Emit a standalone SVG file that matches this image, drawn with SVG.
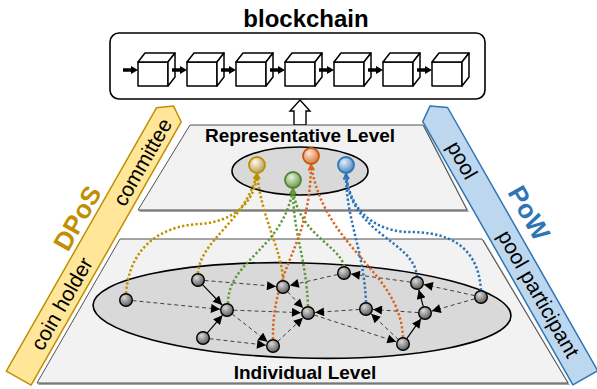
<svg xmlns="http://www.w3.org/2000/svg" width="597" height="389" viewBox="0 0 597 389">
<defs>
<style>
.t{font-family:"Liberation Sans",Arial,sans-serif}
.plane{fill:#f2f2f2;stroke:#404040;stroke-width:0.9}
.shadow{fill:#a6a6a6}
.ell{fill:#d9d9d9;stroke:#000;stroke-width:1.6}
.node{fill:url(#gGray);stroke:#000;stroke-width:1.4}
.dash{fill:none;stroke:#404040;stroke-width:1;stroke-dasharray:4 3;marker-end:url(#ah)}
.solid{fill:none;stroke:#000;stroke-width:1.2;marker-end:url(#ah)}
.dot{fill:none;stroke-width:2.5;stroke-dasharray:2.3 2.2}
.cube{fill:#fff;stroke:#000;stroke-width:1.5;stroke-linejoin:round}
.chain{stroke:#000;stroke-width:3.5;marker-end:url(#cah)}
</style>
<radialGradient id="gGray" cx="0.38" cy="0.32" r="0.7"><stop offset="0" stop-color="#d9d9d9"/><stop offset="1" stop-color="#595959"/></radialGradient>
<radialGradient id="gGold" cx="0.38" cy="0.32" r="0.7"><stop offset="0" stop-color="#fffaea"/><stop offset="1" stop-color="#b39b5a"/></radialGradient>
<radialGradient id="gGreen" cx="0.38" cy="0.32" r="0.7"><stop offset="0" stop-color="#e6f2dc"/><stop offset="1" stop-color="#6a9a4a"/></radialGradient>
<radialGradient id="gOrange" cx="0.38" cy="0.32" r="0.7"><stop offset="0" stop-color="#fde6d6"/><stop offset="1" stop-color="#d7773a"/></radialGradient>
<radialGradient id="gBlue" cx="0.38" cy="0.32" r="0.7"><stop offset="0" stop-color="#e3eef9"/><stop offset="1" stop-color="#4a86c2"/></radialGradient>
<marker id="ah" viewBox="0 0 10 10" refX="10" refY="5" markerWidth="10" markerHeight="9" markerUnits="userSpaceOnUse" orient="auto"><path d="M0,0 L10,5 L0,10 z" fill="#000"/></marker>
<marker id="cah" viewBox="0 0 7 8" refX="2" refY="4" markerWidth="7" markerHeight="9" markerUnits="userSpaceOnUse" orient="auto"><path d="M0,0 L7,4 L0,8 z" fill="#000"/></marker>
<marker id="mGold" viewBox="0 0 8 8" refX="7" refY="4" markerWidth="7" markerHeight="7" markerUnits="userSpaceOnUse" orient="auto"><path d="M1,1 L7,4 L1,7" fill="none" stroke="#bf9000" stroke-width="1.6"/></marker>
<marker id="mGreen" viewBox="0 0 8 8" refX="7" refY="4" markerWidth="7" markerHeight="7" markerUnits="userSpaceOnUse" orient="auto"><path d="M1,1 L7,4 L1,7" fill="none" stroke="#5e9a3a" stroke-width="1.6"/></marker>
<marker id="mOrange" viewBox="0 0 8 8" refX="7" refY="4" markerWidth="7" markerHeight="7" markerUnits="userSpaceOnUse" orient="auto"><path d="M1,1 L7,4 L1,7" fill="none" stroke="#d8651c" stroke-width="1.6"/></marker>
<marker id="mBlue" viewBox="0 0 8 8" refX="7" refY="4" markerWidth="7" markerHeight="7" markerUnits="userSpaceOnUse" orient="auto"><path d="M1,1 L7,4 L1,7" fill="none" stroke="#2e75b6" stroke-width="1.6"/></marker>
<g id="cube">
<rect class="cube" x="0" y="9" width="30" height="24"/>
<polygon class="cube" points="0,9 7,0 37,0 30,9"/>
<polygon class="cube" points="30,9 37,0 37,24 30,33"/>
</g>
</defs>

<rect width="597" height="389" fill="#fff"/>

<!-- blockchain -->
<g id="blockchain">
<text class="t" x="306" y="27" font-size="24" font-weight="bold" text-anchor="middle">blockchain</text>
<rect x="110" y="33" width="375" height="66" rx="9" fill="#fff" stroke="#000" stroke-width="1.6"/>
<use href="#cube" x="138" y="53"/>
<use href="#cube" x="187" y="53"/>
<use href="#cube" x="236" y="53"/>
<use href="#cube" x="285" y="53"/>
<use href="#cube" x="334" y="53"/>
<use href="#cube" x="383" y="53"/>
<use href="#cube" x="432" y="53"/>
<line class="chain" x1="123" y1="70" x2="133" y2="70"/>
<line class="chain" x1="172" y1="70" x2="182" y2="70"/>
<line class="chain" x1="221" y1="70" x2="231" y2="70"/>
<line class="chain" x1="270" y1="70" x2="280" y2="70"/>
<line class="chain" x1="319" y1="70" x2="329" y2="70"/>
<line class="chain" x1="368" y1="70" x2="378" y2="70"/>
<line class="chain" x1="417" y1="70" x2="427" y2="70"/>
</g>

<!-- up arrow -->
<g id="up-arrow">
<polygon points="300,100 310,111 306,111 306,125 294,125 294,111 290,111" fill="#fff" stroke="#000" stroke-width="1.4" stroke-linejoin="miter"/>
</g>

<!-- representative plane -->
<g id="representative-level">
<polygon class="shadow" points="191,126 425,126 469,212 139,212"/>
<polygon class="plane" points="190,125 423,125 467,210 138,210"/>
<text class="t" x="300" y="142" font-size="19" font-weight="bold" text-anchor="middle">Representative Level</text>
<ellipse class="ell" cx="300" cy="171" rx="68" ry="24"/>
</g>

<!-- individual plane -->
<g id="individual-level">
<polygon class="shadow" points="121,240 484,240 570,385 38,385"/>
<polygon class="plane" points="120,239 482,239 568,383 37,383"/>
<ellipse class="ell" cx="302" cy="310.5" rx="209" ry="47.5" transform="rotate(1.5 302 310.5)"/>
<text class="t" x="305" y="379" font-size="19" font-weight="bold" text-anchor="middle">Individual Level</text>
</g>

<!-- DPoS band -->
<g id="dpos-band" transform="translate(18.5,378) rotate(-60.3)">
<polygon points="0,-14 303,-14 313,0 303,14.5 0,14.5" fill="#ffe699" stroke="#bf9000" stroke-width="1.5" stroke-linejoin="round"/>
<text class="t" x="86" y="8" font-size="21" text-anchor="middle">coin holder</text>
<text class="t" x="249" y="8" font-size="21" text-anchor="middle">committee</text>
<text class="t" x="168" y="-19" font-size="26" font-weight="bold" fill="#bf9000" text-anchor="middle">DPoS</text>
</g>

<!-- PoW band -->
<g id="pow-band" transform="translate(430,106) rotate(60.3)">
<polygon points="0,0 10,-14.5 313,-14.5 313,14 10,14" fill="#bdd7ee" stroke="#2e75b6" stroke-width="1.5" stroke-linejoin="round"/>
<text class="t" x="63" y="6" font-size="21" text-anchor="middle">pool</text>
<text class="t" x="217" y="6" font-size="21" text-anchor="middle">pool participant</text>
<text class="t" x="142" y="-24" font-size="26" font-weight="bold" fill="#2e75b6" text-anchor="middle">PoW</text>
</g>

<!-- connectors -->
<g id="connectors">
<g id="delegation" class="dot">
<path stroke="#bf9000" marker-end="url(#mGold)" d="M126,293.5 C130,240 170,225 200,224 C230,222 255,205 257,174"/>
<path stroke="#bf9000" marker-end="url(#mGold)" d="M198,273.5 C200,240 245,222 257,174"/>
<path stroke="#bf9000" marker-end="url(#mGold)" d="M283,280.5 C282,250 262,220 257,174"/>
<path stroke="#5e9a3a" marker-end="url(#mGreen)" d="M228,303.5 C228,260 283,250 293,189"/>
<path stroke="#5e9a3a" marker-end="url(#mGreen)" d="M308,306.5 C306,255 293,235 293,189"/>
<path stroke="#5e9a3a" marker-end="url(#mGreen)" d="M344,266.5 C340,245 298,235 293,189"/>
<path stroke="#d8651c" marker-end="url(#mOrange)" d="M273,339.5 C272,265 310,250 311,165"/>
<path stroke="#d8651c" marker-end="url(#mOrange)" d="M403,337.5 C400,270 325,250 311,165"/>
<path stroke="#2e75b6" marker-end="url(#mBlue)" d="M366,302.5 C364,250 346,220 346,174"/>
<path stroke="#2e75b6" marker-end="url(#mBlue)" d="M417,276.5 C414,240 350,235 346,174"/>
<path stroke="#2e75b6" marker-end="url(#mBlue)" d="M481,290.5 C478,240 440,232 410,232 C380,232 350,215 346,174"/>
</g>
<g id="peer-edges">
<line class="dash" x1="132.5" y1="300.6" x2="220.0" y2="309.3"/>
<line class="solid" x1="202.5" y1="284.7" x2="222.1" y2="305.0"/>
<line class="solid" x1="207.2" y1="333.1" x2="222.4" y2="315.3"/>
<line class="dash" x1="204.5" y1="280.5" x2="276.0" y2="286.4"/>
<line class="dash" x1="233.5" y1="310.2" x2="301.0" y2="312.7"/>
<line class="dash" x1="232.1" y1="314.0" x2="267.5" y2="341.7"/>
<line class="dash" x1="209.5" y1="338.7" x2="266.0" y2="345.2"/>
<line class="dash" x1="287.5" y1="291.7" x2="303.1" y2="308.0"/>
<line class="dash" x1="337.7" y1="274.5" x2="289.8" y2="285.4"/>
<line class="dash" x1="277.7" y1="341.5" x2="302.9" y2="317.8"/>
<line class="dash" x1="359.5" y1="309.4" x2="315.0" y2="312.5"/>
<line class="dash" x1="410.6" y1="282.1" x2="350.9" y2="274.0"/>
<line class="dash" x1="418.5" y1="312.6" x2="373.0" y2="309.5"/>
<line class="dash" x1="398.3" y1="339.5" x2="371.1" y2="313.8"/>
<line class="dash" x1="314.2" y1="315.0" x2="396.3" y2="341.8"/>
<line class="solid" x1="406.8" y1="338.7" x2="421.0" y2="318.7"/>
<line class="solid" x1="423.3" y1="306.7" x2="418.8" y2="289.8"/>
<line class="dash" x1="474.6" y1="295.6" x2="423.8" y2="284.5"/>
<line class="dash" x1="474.7" y1="298.8" x2="431.7" y2="311.1"/>
</g>
</g>

<!-- representative nodes -->
<g id="rep-gold"><circle cx="257" cy="165" r="8" fill="url(#gGold)" stroke="#bf9000" stroke-width="1.8"/></g>
<g id="rep-green"><circle cx="293" cy="180" r="8" fill="url(#gGreen)" stroke="#548235" stroke-width="1.8"/></g>
<g id="rep-orange"><circle cx="311" cy="156" r="8" fill="url(#gOrange)" stroke="#c55a11" stroke-width="1.8"/></g>
<g id="rep-blue"><circle cx="346" cy="165" r="8" fill="url(#gBlue)" stroke="#2e75b6" stroke-width="1.8"/></g>

<!-- individual nodes -->
<g id="n-A"><circle class="node" cx="126" cy="300" r="6.3"/></g>
<g id="n-B"><circle class="node" cx="198" cy="280" r="6.3"/></g>
<g id="n-C"><circle class="node" cx="227" cy="310" r="6.3"/></g>
<g id="n-D"><circle class="node" cx="203" cy="338" r="6.3"/></g>
<g id="n-E"><circle class="node" cx="273" cy="346" r="6.3"/></g>
<g id="n-F"><circle class="node" cx="283" cy="287" r="6.3"/></g>
<g id="n-G"><circle class="node" cx="308" cy="313" r="6.3"/></g>
<g id="n-H"><circle class="node" cx="344" cy="273" r="6.3"/></g>
<g id="n-I"><circle class="node" cx="366" cy="309" r="6.3"/></g>
<g id="n-J"><circle class="node" cx="417" cy="283" r="6.3"/></g>
<g id="n-K"><circle class="node" cx="425" cy="313" r="6.3"/></g>
<g id="n-L"><circle class="node" cx="403" cy="344" r="6.3"/></g>
<g id="n-M"><circle class="node" cx="481" cy="297" r="6.3"/></g>
</svg>
